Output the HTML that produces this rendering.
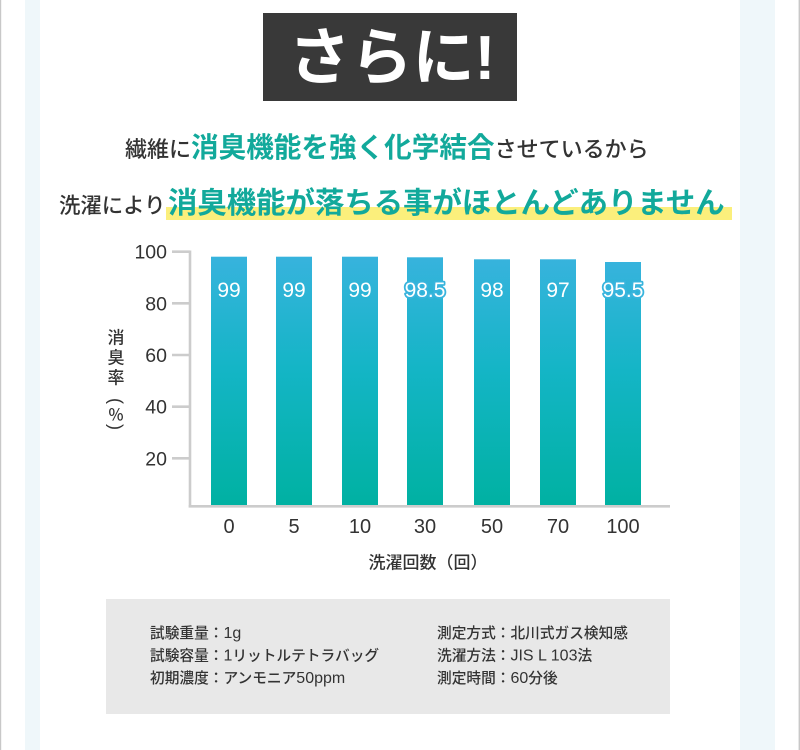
<!DOCTYPE html>
<html>
<head>
<meta charset="utf-8">
<style>
  html,body{margin:0;padding:0;background:#fff;}
  body{width:800px;height:750px;overflow:hidden;}
  svg{display:block;}
  .jp{font-family:"Liberation Sans","Noto Sans CJK JP",sans-serif;}
  .num{font-family:"Liberation Sans",sans-serif;}
</style>
</head>
<body>
<svg width="800" height="750" viewBox="0 0 800 750" xmlns="http://www.w3.org/2000/svg">
  <defs>
    <linearGradient id="bg" x1="0" y1="0" x2="0" y2="1">
      <stop offset="0" stop-color="#37b3dd"/>
      <stop offset="0.45" stop-color="#14b5c6"/>
      <stop offset="1" stop-color="#00b1a2"/>
    </linearGradient>
  </defs>

  <!-- page frame -->
  <rect x="0" y="0" width="800" height="750" fill="#ffffff"/>
  <rect x="0" y="0" width="1.2" height="750" fill="#c8c8c8"/>
  <rect x="798.6" y="0" width="1.4" height="750" fill="#c8c8c8"/>
  <rect x="25" y="0" width="15" height="750" fill="#eff7fa"/>
  <rect x="740" y="0" width="35" height="750" fill="#eff7fa"/>

  <!-- title box -->
  <rect x="263" y="13" width="254" height="88" fill="#393939"/>
  <text x="392" y="79" text-anchor="middle" class="jp" font-size="62" font-weight="700" fill="#ffffff">さらに!</text>

  <!-- heading line 1 -->
  <text x="125" y="157" class="jp" fill="#333333" font-weight="500"><tspan font-size="22">繊維に</tspan><tspan font-size="27.6" font-weight="700" fill="#12a99b">消臭機能を強く化学結合</tspan><tspan font-size="22">させているから</tspan></text>

  <!-- heading line 2 -->
  <rect x="166" y="207" width="566" height="13" fill="#fbef7c"/>
  <text x="59" y="213" class="jp" fill="#333333" font-weight="500"><tspan font-size="21.4">洗濯により</tspan><tspan x="168" font-size="29.4" font-weight="700" fill="#12a99b">消臭機能が落ちる事がほとんどありません</tspan></text>

  <!-- chart axes -->
  <g stroke="#cccccc" stroke-width="2.6" fill="none">
    <line x1="190" y1="250.5" x2="190" y2="507.5"/>
    <line x1="188.7" y1="506.3" x2="670" y2="506.3"/>
    <line x1="172" y1="251.7" x2="190" y2="251.7"/>
    <line x1="172" y1="303.3" x2="190" y2="303.3"/>
    <line x1="172" y1="355" x2="190" y2="355"/>
    <line x1="172" y1="406.7" x2="190" y2="406.7"/>
    <line x1="172" y1="458.3" x2="190" y2="458.3"/>
  </g>

  <!-- y tick labels -->
  <g class="num" font-size="19.5" fill="#333333" text-anchor="end">
    <text x="167" y="258.7">100</text>
    <text x="167" y="310.3">80</text>
    <text x="167" y="362">60</text>
    <text x="167" y="413.7">40</text>
    <text x="167" y="465.3">20</text>
  </g>

  <!-- y axis title -->
  <g class="jp" font-size="17" fill="#333333" text-anchor="middle" font-weight="500">
    <text x="116" y="343.5">消</text>
    <text x="116" y="363.5">臭</text>
    <text x="116" y="383.5">率</text>
    <text x="116" y="420.5" font-size="16">％</text>
  </g>
  <g class="num" font-size="18" fill="#333333" text-anchor="middle">
    <text transform="translate(116,401) rotate(90)" dominant-baseline="central">(</text>
    <text transform="translate(116,427) rotate(90)" dominant-baseline="central">)</text>
  </g>

  <!-- bars -->
  <g fill="url(#bg)">
    <rect x="211" y="256.7" width="36" height="248.3"/>
    <rect x="276" y="256.7" width="36" height="248.3"/>
    <rect x="342" y="256.7" width="36" height="248.3"/>
    <rect x="407" y="257.3" width="36" height="247.7"/>
    <rect x="474" y="259.3" width="36" height="245.7"/>
    <rect x="540" y="259.3" width="36" height="245.7"/>
    <rect x="605" y="262" width="36" height="243"/>
  </g>

  <!-- bar value labels -->
  <g class="num" font-size="21" fill="#ffffff" text-anchor="middle">
    <text x="229" y="296.8">99</text>
    <text x="294" y="296.8">99</text>
    <text x="360" y="296.8">99</text>
    <text x="425" y="296.8" stroke="#38b4dd" stroke-width="3.5" stroke-linejoin="round" paint-order="stroke">98.5</text>
    <text x="492" y="296.8">98</text>
    <text x="558" y="296.8">97</text>
    <text x="623" y="296.8" stroke="#38b4dd" stroke-width="3.5" stroke-linejoin="round" paint-order="stroke">95.5</text>
  </g>

  <!-- x tick labels -->
  <g class="num" font-size="20" fill="#333333" text-anchor="middle">
    <text x="229" y="533">0</text>
    <text x="294" y="533">5</text>
    <text x="360" y="533">10</text>
    <text x="425" y="533">30</text>
    <text x="492" y="533">50</text>
    <text x="558" y="533">70</text>
    <text x="623" y="533">100</text>
  </g>

  <!-- x axis title -->
  <text x="428" y="568.5" text-anchor="middle" class="jp" font-size="17" font-weight="500" fill="#333333">洗濯回数（回）</text>

  <!-- info box -->
  <rect x="106" y="599" width="564" height="115" fill="#e8e8e8"/>
  <g class="jp" font-size="14.7" fill="#333333" font-weight="500">
    <text x="150" y="638">試験重量：<tspan font-size="16">1g</tspan></text>
    <text x="150" y="660.5">試験容量：<tspan font-size="16">1</tspan>リットルテトラバッグ</text>
    <text x="150" y="683">初期濃度：アンモニア<tspan font-size="16">50ppm</tspan></text>
    <text x="437" y="638">測定方式：北川式ガス検知感</text>
    <text x="437" y="660.5">洗濯方法：<tspan font-size="16">JIS L 103</tspan>法</text>
    <text x="437" y="683">測定時間：<tspan font-size="16">60</tspan>分後</text>
  </g>
</svg>
</body>
</html>
